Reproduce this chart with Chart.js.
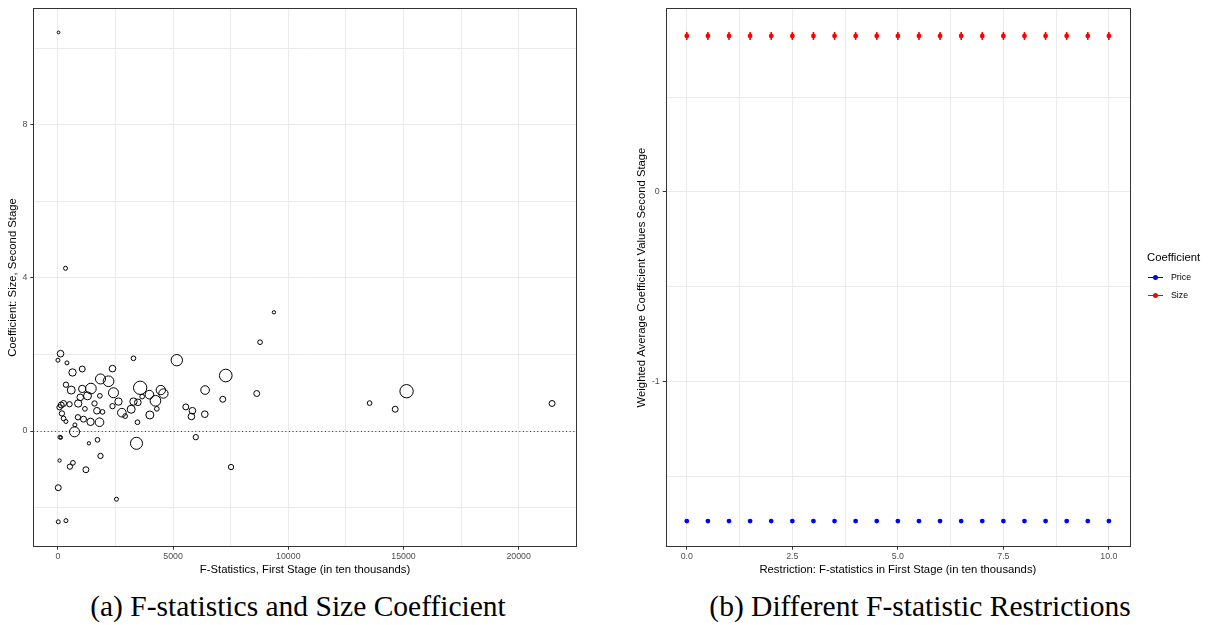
<!DOCTYPE html>
<html>
<head>
<meta charset="utf-8">
<script src="https://cdn.jsdelivr.net/npm/chart.js@4/dist/chart.umd.min.js"></script>
<style>
  body { margin: 0; background: #fff; width: 1208px; height: 625px; position: relative; overflow: hidden; }
  #left { position: absolute; left: 0; top: 0; }
  #right { position: absolute; left: 600px; top: 0; }
  .cap { position: absolute; top: 591px; line-height: 30px; font-family: "Liberation Serif", "DejaVu Serif", serif;
         font-size: 29.5px; white-space: nowrap; transform: translateX(-50%); color: #000; }
  #legend { position: absolute; left: 1147px; top: 251px; font-family: "Liberation Sans", Arial, sans-serif; }
  #legend .ttl { font-size: 11.3px; height: 17px; }
  #legend .item { font-size: 8.8px; height: 18px; display: flex; align-items: center; }
  #legend .key { position: relative; width: 16px; height: 10px; margin-right: 8px; }
  #legend .key i { position: absolute; left: 1px; right: 0; top: 4.5px; height: 1px; }
  #legend .key b { position: absolute; left: 6px; top: 2.5px; width: 5px; height: 5px; border-radius: 50%; }
</style>
</head>
<body>
<canvas id="left" width="600" height="580"></canvas>
<canvas id="right" width="608" height="580"></canvas>
<div id="legend"></div>
<div class="cap" style="left:298px">(a) F-statistics and Size Coefficient</div>
<div class="cap" style="left:920px">(b) Different F-statistic Restrictions</div>
<script>
Chart.defaults.font.family = '"Liberation Sans", Arial, Helvetica, sans-serif';
Chart.defaults.animation = false;
Chart.defaults.events = [];

// (a) first-stage F statistic vs second-stage size coefficient, bubble = weight
const fStat = [26, 329, 9376, 8774, 113, 0, 390, 3279, 5160, 633, 1054, 2368, 347, 577, 1054, 1431, 1284, 1821,
  1847, 2195, 2411, 2628, 2368, 2775, 2918, 3179, 3279, 3469, 3569, 3972, 4233, 4466, 4579, 4293, 3990, 3656,
  3452, 3409, 5551, 5837, 5794, 6388, 6375, 7155, 7285, 8630, 5984, 7515, 720, 87, 130, 1345, 1717, 1847, 69,
  520, 650, 1214, 13, 2541, 13, 347, 143, 69, 243, 503, 173, 243, 347, 737, 880, 867, 1110, 1171, 1414, 1587,
  1691, 1804, 1934, 967, 13530, 14640, 15134, 21450];
const sizeCoef = [10.41, 4.25, 3.10, 2.32, 2.02, 1.85, 1.78, 1.90, 1.85, 1.53, 1.62, 1.63, 1.21, 1.07, 1.10, 1.11,
  0.92, 0.92, 1.36, 1.30, 1.00, 0.77, 0.65, 0.48, 0.39, 0.57, 0.77, 0.75, 1.13, 0.95, 0.79, 1.07, 0.98, 0.58, 0.42,
  0.90, 0.23, -0.32, 0.63, 0.53, 0.38, 1.07, 0.44, 0.83, 1.45, 0.98, -0.16, -0.94, -0.02, -0.16, -0.17, -0.32,
  -0.23, -0.65, -0.77, -0.93, -0.83, -1.01, -1.48, -1.78, -2.37, -2.34, 0.68, 0.62, 0.72, 0.70, 0.46, 0.33, 0.25,
  0.16, 0.72, 0.36, 0.31, 0.58, 0.24, 0.72, 0.53, 0.23, 0.50, 0.88, 0.73, 0.57, 1.04, 0.72];
const weight = [0.6, 1.3, 0.9, 1.8, 3.6, 1.3, 1.3, 1.8, 10.5, 4.4, 2.9, 3.6, 2.3, 5.2, 4.4, 9.3, 5.2, 1.8, 8.2,
  9.3, 8.2, 4.4, 2.3, 6.1, 1.8, 5.2, 4.4, 3.6, 14.5, 6.1, 9.3, 7.1, 7.1, 1.8, 5.2, 1.8, 1.8, 11.8, 2.9, 3.6, 3.6,
  6.1, 3.6, 2.9, 13.1, 2.9, 2.3, 2.3, 8.2, 1.3, 0.9, 0.9, 1.8, 2.3, 0.9, 2.3, 1.8, 2.9, 2.9, 1.3, 1.3, 1.3, 2.9,
  2.3, 2.9, 2.3, 2.3, 1.8, 1.3, 1.3, 4.4, 2.3, 2.9, 1.8, 4.4, 2.3, 3.6, 6.1, 1.8, 3.6, 1.8, 2.9, 14.5, 2.9];

const leftXTicks = [0, 2500, 5000, 7500, 10000, 12500, 15000, 17500, 20000];
const leftXLabels = ['0', '', '5000', '', '10000', '', '15000', '', '20000'];
const leftYTicks = [-2, 0, 2, 4, 6, 8, 10];
const leftYLabels = ['', '0', '', '4', '', '8', ''];

// (b) weighted average coefficients under different F-statistic cut-offs
const restriction = [0, 0.5, 1, 1.5, 2, 2.5, 3, 3.5, 4, 4.5, 5, 5.5, 6, 6.5, 7, 7.5, 8, 8.5, 9, 9.5, 10];
const priceAvg = [-1.737, -1.737, -1.737, -1.737, -1.737, -1.737, -1.737, -1.737, -1.737, -1.737, -1.737,
  -1.737, -1.737, -1.737, -1.737, -1.737, -1.737, -1.737, -1.737, -1.737, -1.737];
const priceSe = [0.004, 0.004, 0.004, 0.004, 0.004, 0.004, 0.004, 0.004, 0.004, 0.004, 0.004,
  0.004, 0.004, 0.004, 0.004, 0.004, 0.004, 0.004, 0.004, 0.004, 0.004];
const sizeAvg = [0.822, 0.822, 0.822, 0.822, 0.822, 0.822, 0.822, 0.822, 0.822, 0.822, 0.822,
  0.822, 0.822, 0.822, 0.822, 0.822, 0.822, 0.822, 0.822, 0.822, 0.822];
const sizeSe = [0.021, 0.021, 0.021, 0.021, 0.021, 0.021, 0.021, 0.021, 0.021, 0.021, 0.021,
  0.021, 0.021, 0.021, 0.021, 0.021, 0.021, 0.021, 0.021, 0.021, 0.021];

const rightXTicks = [0, 1.25, 2.5, 3.75, 5, 6.25, 7.5, 8.75, 10];
const rightXLabels = ['0.0', '', '2.5', '', '5.0', '', '7.5', '', '10.0'];
const rightYTicks = [-1.5, -1, -0.5, 0, 0.5];
const rightYLabels = ['', '-1', '', '0', ''];

function axis(ticks, labels, o) {
  return {
    type: 'linear', min: o.min, max: o.max, bounds: 'data',
    afterBuildTicks: s => { s.ticks = ticks.map(v => ({ value: v })); },
    afterFit: s => { if (s.isHorizontal()) s.height = o.size; else s.width = o.size; },
    ticks: {
      autoSkip: false, maxRotation: 0, padding: o.tickPad, color: '#4D4D4D', font: { size: 8.8 },
      callback: (v, i) => labels[i]
    },
    grid: {
      color: '#EBEBEB', lineWidth: 1, tickLength: 3, tickWidth: 1,
      tickColor: c => labels[c.index] ? '#333333' : 'rgba(0,0,0,0)'
    },
    border: { display: false },
    title: { display: true, text: o.title, color: '#000', font: { size: 11.3 }, padding: o.titlePad }
  };
}

const panelBorder = {
  id: 'panelBorder',
  beforeDatasetsDraw(chart, args, opts) {
    const { ctx, chartArea: a, scales } = chart;
    if (opts.zeroLine !== undefined) {
      const y = Math.round(scales.y.getPixelForValue(opts.zeroLine)) + 0.5;
      ctx.save();
      ctx.strokeStyle = '#333333';
      ctx.lineWidth = 1;
      ctx.setLineDash([1, 2.6]);
      ctx.beginPath();
      ctx.moveTo(a.left, y);
      ctx.lineTo(a.right, y);
      ctx.stroke();
      ctx.restore();
    }
  },
  afterDraw(chart) {
    const { ctx, chartArea: a } = chart;
    ctx.save();
    ctx.strokeStyle = '#333333';
    ctx.lineWidth = 1;
    ctx.strokeRect(Math.round(a.left) + 0.5, Math.round(a.top) + 0.5,
      Math.round(a.right - a.left), Math.round(a.bottom - a.top));
    ctx.restore();
  }
};

const errorBars = {
  id: 'errorBars',
  beforeDatasetsDraw(chart) {
    const { ctx, scales } = chart;
    chart.data.datasets.forEach(ds => {
      if (!ds.errors) return;
      ctx.save();
      ctx.strokeStyle = ds.borderColor;
      ctx.lineWidth = 1.6;
      ds.data.forEach((p, i) => {
        const x = scales.x.getPixelForValue(p.x);
        const y1 = scales.y.getPixelForValue(p.y - ds.errors[i]);
        const y2 = scales.y.getPixelForValue(p.y + ds.errors[i]);
        ctx.beginPath();
        ctx.moveTo(x, y1);
        ctx.lineTo(x, y2);
        ctx.stroke();
      });
      ctx.restore();
    });
  }
};

const bubbleRadius = w => 1.75 * Math.sqrt(w);

new Chart(document.getElementById('left'), {
  type: 'bubble',
  data: {
    datasets: [{
      data: fStat.map((x, i) => ({ x, y: sizeCoef[i], r: bubbleRadius(weight[i]) })),
      backgroundColor: 'rgba(0,0,0,0)',
      borderColor: '#000000',
      borderWidth: 1
    }]
  },
  options: {
    responsive: false,
    layout: { padding: { left: 0, top: 8, right: 23.3, bottom: 0 } },
    plugins: { legend: { display: false }, tooltip: { enabled: false }, panelBorder: { zeroLine: 0 } },
    scales: {
      x: axis(leftXTicks, leftXLabels, { min: -1070, max: 22520, size: 33.3, tickPad: 1.5,
        title: 'F-Statistics, First Stage (in ten thousands)', titlePad: { top: 0, bottom: 3.2 } }),
      y: axis(leftYTicks, leftYLabels, { min: -3.02, max: 11.04, size: 33.3, tickPad: 3,
        title: 'Coefficient: Size, Second Stage', titlePad: { top: 5.7, bottom: 0 } })
    }
  },
  plugins: [panelBorder]
});

const rightChart = new Chart(document.getElementById('right'), {
  type: 'scatter',
  data: {
    datasets: [
      { label: 'Price', data: restriction.map((x, i) => ({ x, y: priceAvg[i] })), errors: priceSe,
        backgroundColor: '#0000FF', borderColor: '#0000FF', pointRadius: 2.4, borderWidth: 0 },
      { label: 'Size', data: restriction.map((x, i) => ({ x, y: sizeAvg[i] })), errors: sizeSe,
        backgroundColor: '#FF0000', borderColor: '#FF0000', pointRadius: 2.4, borderWidth: 0 }
    ]
  },
  options: {
    responsive: false,
    layout: { padding: { left: 0, top: 8, right: 78, bottom: 0 } },
    plugins: { legend: { display: false }, tooltip: { enabled: false } },
    scales: {
      x: axis(rightXTicks, rightXLabels, { min: -0.5, max: 10.5, size: 33.3, tickPad: 1.5,
        title: 'Restriction: F-statistics in First Stage (in ten thousands)', titlePad: { top: 0, bottom: 3.2 } }),
      y: axis(rightYTicks, rightYLabels, { min: -1.872, max: 0.968, size: 65.7, tickPad: 3,
        title: 'Weighted Average Coefficient Values Second Stage', titlePad: { top: 35.2, bottom: 0 } })
    }
  },
  plugins: [panelBorder, errorBars]
});

// legend built from the chart's own datasets
const legend = document.getElementById('legend');
legend.innerHTML = '<div class="ttl">Coefficient</div>' + rightChart.data.datasets.map(ds =>
  `<div class="item"><span class="key"><i style="background:${ds.borderColor}"></i><b style="background:${ds.backgroundColor}"></b></span>${ds.label}</div>`
).join('');
</script>
</body>
</html>
